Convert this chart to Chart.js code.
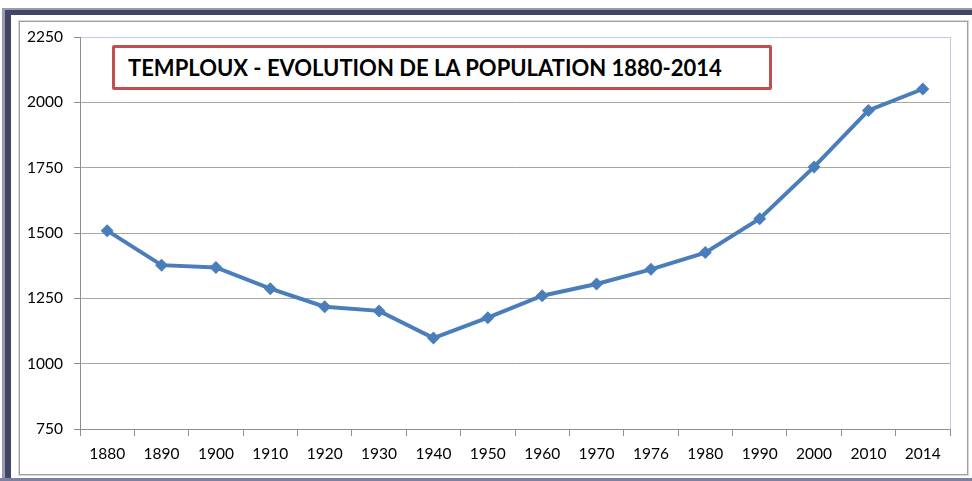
<!DOCTYPE html>
<html>
<head>
<meta charset="utf-8">
<script src="https://cdn.jsdelivr.net/npm/chart.js@4.4.0/dist/chart.umd.min.js"></script>
<style>
    html, body { margin: 0; padding: 0; background: #fff; }
    #wrap { position: relative; width: 972px; height: 481px; overflow: hidden; background: #fff; }
    /* outer window frame */
    .frame-outer {
        position: absolute; left: 2px; top: 8px; width: 990px; height: 490px;
        border-left: 3px solid #9a9ab4; border-top: 2px solid #9a9ab4;
    }
    .frame-dark {
        position: absolute; left: 5px; top: 10px; width: 990px; height: 490px;
        border-left: 6px solid #424563; border-top: 5px solid #424563;
    }
    .frame-bottom {
        position: absolute; left: 0; top: 478px; width: 972px; height: 3px; background: #7d80a0;
    }
    .frame-inner {
        position: absolute; left: 19px; top: 21px; width: 947px; height: 452px;
        border: 1px solid #a0a0a0; outline: 1px solid #d8d8d8; background: #fff;
    }
    #chart { position: absolute; left: 0; top: 0; }
    .title-box {
        position: absolute; left: 112px; top: 45px; width: 641px; height: 39px;
        border: 3px solid #c0504d; border-radius: 2px; background: #fff;
        font-family: Lato, "Open Sans", sans-serif; font-weight: bold; font-size: 22px;
        color: #000; line-height: 39px; padding-left: 13px; box-sizing: content-box;
        white-space: nowrap;
    }
</style>
</head>
<body>
<div id="wrap">
    <div class="frame-outer"></div>
    <div class="frame-dark"></div>
    <div class="frame-bottom"></div>
    <div class="frame-inner"></div>
    <canvas id="chart" width="972" height="481"></canvas>
    <div class="title-box">TEMPLOUX - EVOLUTION DE LA POPULATION 1880-2014</div>
</div>
<script>
// Données
const years = ['1880', '1890', '1900', '1910', '1920', '1930', '1940', '1950',
               '1960', '1970', '1976', '1980', '1990', '2000', '2010', '2014'];
const population = [1509, 1377, 1368, 1287, 1218, 1202, 1098, 1176,
                    1260, 1305, 1361, 1425, 1555, 1753, 1969, 2051];
const yTicks = [750, 1000, 1250, 1500, 1750, 2000, 2250];

const lineColor = '#4a7ebb';
const labelFont = { family: 'Lato, "Open Sans", sans-serif', size: 15.5 };

// bordure droite de la zone de tracé (bleu clair, comme dans Excel)
const plotBorder = {
    id: 'plotBorder',
    beforeDatasetsDraw(chart) {
        const a = chart.chartArea;
        const ctx = chart.ctx;
        ctx.save();
        ctx.strokeStyle = '#b9c9e6';
        ctx.lineWidth = 1;
        ctx.beginPath();
        ctx.moveTo(Math.round(a.right) + 0.5, a.top);
        ctx.lineTo(Math.round(a.right) + 0.5, a.bottom);
        ctx.stroke();
        ctx.restore();
    }
};

new Chart(document.getElementById('chart'), {
    type: 'line',
    data: {
        labels: years,
        datasets: [{
            data: population,
            borderColor: lineColor,
            backgroundColor: lineColor,
            borderWidth: 4,
            tension: 0,
            pointStyle: 'rectRot',
            pointRadius: 6.5,
            pointBorderWidth: 0,
            pointBackgroundColor: lineColor,
            fill: false,
        }],
    },
    options: {
        responsive: false,
        animation: false,
        devicePixelRatio: 1,
        layout: { padding: { left: 0, top: 37, right: 22, bottom: 0 } },
        plugins: {
            legend: { display: false },
            title: { display: false },
            tooltip: { enabled: false },
        },
        scales: {
            x: {
                type: 'category',
                offset: true,
                grid: {
                    offset: true,
                    drawOnChartArea: false,
                    tickLength: 7,
                    color: '#8e8e8e',
                },
                border: { color: '#8e8e8e', width: 1 },
                ticks: {
                    font: labelFont,
                    color: '#000',
                    padding: 9,
                    maxRotation: 0,
                    autoSkip: false,
                },
                afterFit(scale) { scale.height = 52; },
            },
            y: {
                min: 750,
                max: 2250,
                afterBuildTicks(scale) {
                    scale.ticks = yTicks.map(v => ({ value: v }));
                },
                grid: {
                    color: ctx => (ctx.tick && ctx.tick.value === 2250) ? '#b9c9e6' : '#a6a6a6',
                    tickLength: 6,
                    tickColor: '#8e8e8e',
                },
                border: { color: '#8e8e8e', width: 1 },
                ticks: {
                    font: labelFont,
                    color: '#000',
                    padding: 11,
                    callback: v => String(v),
                },
                afterFit(scale) { scale.width = 80; },
            },
        },
    },
    plugins: [plotBorder],
});
</script>
</body>
</html>
